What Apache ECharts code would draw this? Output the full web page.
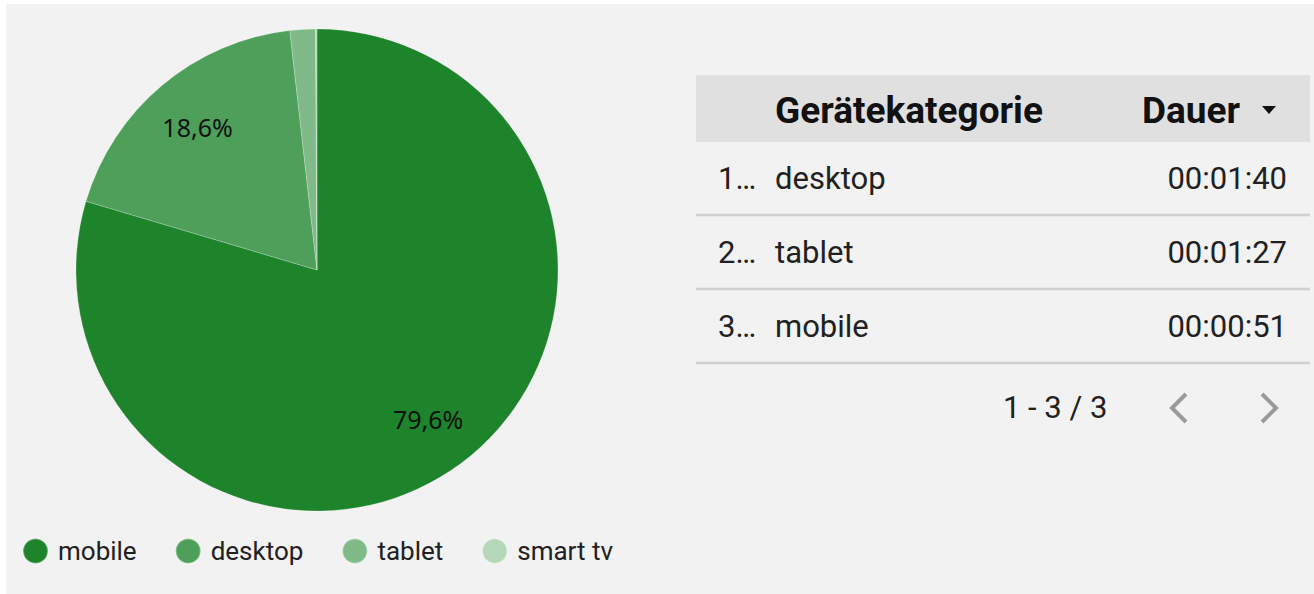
<!DOCTYPE html>
<html>
<head>
<meta charset="utf-8">
<script src="https://cdn.jsdelivr.net/npm/echarts@6/dist/echarts.min.js"></script>
<style>
  html, body { margin: 0; padding: 0; background: #ffffff; }
  #chart { width: 1314px; height: 594px; }
</style>
</head>
<body>
<div id="chart"></div>
<script>
  // pie data (share of sessions per device)
  var devices = ['mobile', 'desktop', 'tablet', 'smart tv'];
  var shares = [79.6, 18.6, 1.7, 0.1];
  var colors = ['#1d842b', '#4e9f5a', '#80ba88', '#b4d8b9'];

  // table rows
  var rankCol = ['1…', '2…', '3…'];
  var categoryCol = ['desktop', 'tablet', 'mobile'];
  var durationCol = ['00:01:40', '00:01:27', '00:00:51'];
  var pagerText = '1 - 3 / 3';

  var pieData = [];
  var legendData = [];
  for (var i = 0; i < devices.length; i++) {
    pieData.push({ name: devices[i], value: shares[i], itemStyle: { color: colors[i] } });
    legendData.push({ name: devices[i], itemStyle: { color: colors[i] } });
  }
  var labelData = [];
  for (var i = 0; i < devices.length; i++) {
    labelData.push({ name: devices[i], value: shares[i] });
  }

  var font = 'Roboto, "Noto Sans", sans-serif';
  var txt = '#212121';

  // table drawn with graphic elements
  var g = [];
  g.push({ type: 'rect', z: -10, shape: { x: 6, y: 4, width: 1308, height: 590 }, style: { fill: '#f2f2f2' } });
  g.push({ type: 'rect', shape: { x: 696, y: 75, width: 614, height: 67 }, style: { fill: '#e0e0e0' } });
  g.push({ type: 'text', x: 775, y: 110, style: { text: 'Gerätekategorie', font: 'bold 37px ' + font, fill: '#111', textVerticalAlign: 'middle' } });
  g.push({ type: 'text', x: 1240, y: 110, style: { text: 'Dauer', font: 'bold 37px ' + font, fill: '#111', textAlign: 'right', textVerticalAlign: 'middle' } });
  g.push({ type: 'polygon', shape: { points: [[1262, 106], [1276, 106], [1269, 114]] }, style: { fill: '#111' } });

  var rowY = [178, 252, 326];
  var lineY = [215, 289, 363];
  for (var r = 0; r < rankCol.length; r++) {
    g.push({ type: 'text', x: 718, y: rowY[r], style: { text: rankCol[r], font: '31px ' + font, fill: txt, textVerticalAlign: 'middle' } });
    g.push({ type: 'text', x: 775, y: rowY[r], style: { text: categoryCol[r], font: '31px ' + font, fill: txt, textVerticalAlign: 'middle' } });
    g.push({ type: 'text', x: 1287, y: rowY[r], style: { text: durationCol[r], font: '31px ' + font, fill: txt, textAlign: 'right', textVerticalAlign: 'middle' } });
    g.push({ type: 'line', shape: { x1: 696, y1: lineY[r], x2: 1310, y2: lineY[r] }, style: { stroke: '#d0d0d0', lineWidth: 2.5 } });
  }
  g.push({ type: 'text', x: 1003, y: 407, style: { text: pagerText, font: '31px ' + font, fill: txt, textVerticalAlign: 'middle' } });
  g.push({ type: 'polyline', shape: { points: [[1186, 394], [1172, 408], [1186, 422]] }, style: { stroke: '#9a9a9a', lineWidth: 4, fill: null } });
  g.push({ type: 'polyline', shape: { points: [[1262, 394], [1276, 408], [1262, 422]] }, style: { stroke: '#9a9a9a', lineWidth: 4, fill: null } });

  var myChart = echarts.init(document.getElementById('chart'), null, { renderer: 'svg' });
  var option = {
    backgroundColor: '#ffffff',
    animation: false,
    legend: {
      data: legendData,
      left: 22,
      top: 537.5,
      padding: 0,
      icon: 'circle',
      itemWidth: 25,
      itemHeight: 25,
      itemGap: 38,
      selectedMode: false,
      textStyle: { fontFamily: font, fontSize: 26, color: txt, padding: [0, 0, 0, 5] }
    },
    graphic: g,
    series: [
      {
        name: 'Geräte',
        type: 'pie',
        center: [317, 270],
        radius: [0, 241],
        startAngle: 90,
        clockwise: true,
        silent: true,
        label: { show: false },
        labelLine: { show: false },
        itemStyle: { borderColor: 'rgba(255,255,255,0.35)', borderWidth: 0.6 },
        data: pieData
      },
      {
        name: 'Labels',
        type: 'pie',
        center: [317, 270],
        radius: [125, 241],
        startAngle: 90,
        clockwise: true,
        silent: true,
        minShowLabelAngle: 20,
        itemStyle: { color: 'rgba(0,0,0,0)' },
        label: {
          show: true,
          position: 'inside',
          fontFamily: '"Noto Sans", sans-serif',
          fontSize: 25,
          color: '#111',
          formatter: function (p) {
            return p.value.toFixed(1).replace('.', ',') + '%';
          }
        },
        labelLine: { show: false },
        data: labelData
      }
    ]
  };
  myChart.setOption(option);
</script>
</body>
</html>
